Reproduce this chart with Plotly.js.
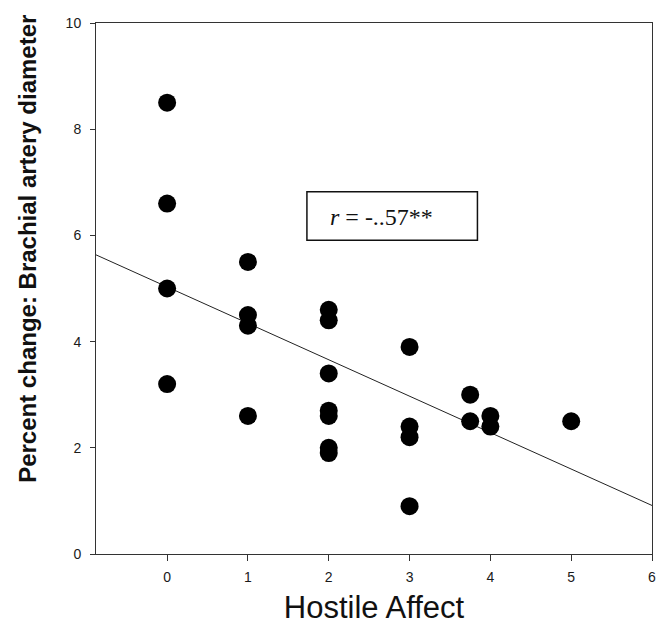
<!DOCTYPE html>
<html>
<head>
<meta charset="utf-8">
<script src="https://cdn.plot.ly/plotly-3.0.1.min.js"></script>
<style>html,body{margin:0;padding:0;background:#fff;}#chart{width:659px;height:630px;}</style>
</head>
<body>
<div id="chart"></div>
<script>
// Data
const hostileAffect = [0, 0, 0, 0, 1, 1, 1, 1, 2, 2, 2, 2, 2, 2, 2, 3, 3, 3, 3, 3.75, 3.75, 4, 4, 5];
const percentChange = [8.5, 6.6, 5.0, 3.2, 5.5, 4.5, 4.3, 2.6, 4.6, 4.4, 3.4, 2.7, 2.6, 2.0, 1.9, 3.9, 2.4, 2.2, 0.9, 3.0, 2.5, 2.6, 2.4, 2.5];
const fitIntercept = 5.03;
const fitSlope = -0.686;
const xTickVals = [0, 1, 2, 3, 4, 5, 6];
const yTickVals = [0, 2, 4, 6, 8, 10];
const xRange = [-0.88, 6];
const yRange = [0, 10];
const annotationText = '<i>r</i> = -..57**';
const yTitleText = '<b>Percent change: Brachial artery diameter</b>';
const xTitleText = 'Hostile Affect';

const fitX = xRange.slice();
const fitY = fitX.map(x => fitIntercept + fitSlope * x);

const traces = [
  {x: fitX, y: fitY, mode: 'lines', type: 'scatter', line: {color: '#222', width: 1}, hoverinfo: 'skip', showlegend: false},
  {x: hostileAffect, y: percentChange, mode: 'markers', type: 'scatter', marker: {color: '#000', size: 18}, showlegend: false}
];

const axisFont = {family: 'Arial, Liberation Sans, sans-serif', size: 14, color: '#1a1a1a'};
const layout = {
  width: 659, height: 630,
  margin: {l: 96, r: 7, t: 23, b: 76},
  paper_bgcolor: '#fff', plot_bgcolor: '#fff',
  showlegend: false,
  xaxis: {
    range: xRange, tickvals: xTickVals, ticktext: xTickVals.map(String),
    showgrid: false, zeroline: false, showline: true, mirror: true, linecolor: '#333', linewidth: 1,
    ticks: 'outside', ticklen: 6, tickcolor: '#333', tickfont: axisFont, ticklabelstandoff: 4,
    title: {text: xTitleText, font: {family: 'Arial, Liberation Sans, sans-serif', size: 31, color: '#111'}, standoff: 12}
  },
  yaxis: {
    range: yRange, tickvals: yTickVals, ticktext: yTickVals.map(String),
    showgrid: false, zeroline: false, showline: true, mirror: true, linecolor: '#333', linewidth: 1,
    ticks: 'outside', ticklen: 5, tickcolor: '#333', tickfont: axisFont, ticklabelstandoff: 6
  },
  shapes: [
    {type: 'rect', xref: 'x', yref: 'y', x0: 1.73, x1: 3.84, y0: 5.91, y1: 6.82, line: {color: '#111', width: 1.5}, fillcolor: 'rgba(0,0,0,0)'}
  ],
  annotations: [
    {xref: 'x', yref: 'y', x: 2.65, y: 6.35, text: annotationText, showarrow: false, xanchor: 'center', yanchor: 'middle',
     font: {family: 'Liberation Serif, Times New Roman, serif', size: 24, color: '#111'}},
    {xref: 'paper', yref: 'paper', x: -0.122, y: 0.575, text: yTitleText, textangle: -90, showarrow: false,
     xanchor: 'center', yanchor: 'middle',
     font: {family: 'Arial, Liberation Sans, sans-serif', size: 24, color: '#111'}}
  ]
};

Plotly.newPlot('chart', traces, layout, {displayModeBar: false, staticPlot: true});
</script>
</body>
</html>
